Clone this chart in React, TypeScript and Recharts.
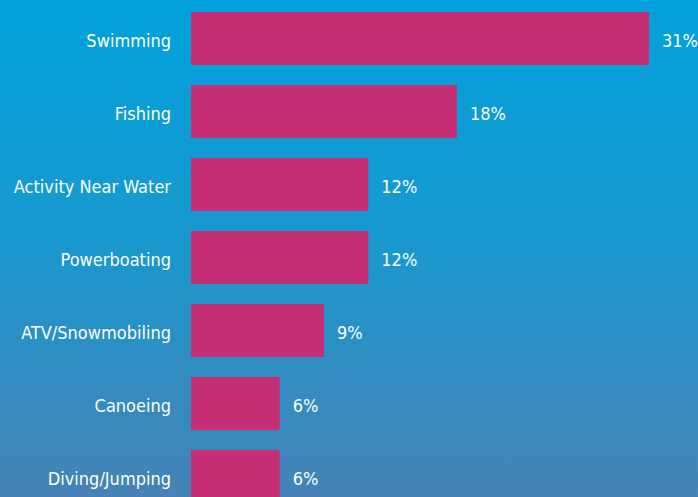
import { Bar, BarChart, LabelList, XAxis, YAxis } from 'recharts';

const activities = [
  'Swimming',
  'Fishing',
  'Activity Near Water',
  'Powerboating',
  'ATV/Snowmobiling',
  'Canoeing',
  'Diving/Jumping',
];
const shares = [31, 18, 12, 12, 9, 6, 6];

const data = activities.map((name, i) => ({ name, value: shares[i] }));

const textStyle = {
  fill: '#ffffff',
  fontSize: 18,
  fontFamily: '"DejaVu Sans", sans-serif',
  fontStretch: 'condensed',
};

export default function App() {
  return (
    <div
      style={{
        position: 'absolute',
        top: 0,
        left: 0,
        width: 698,
        height: 497,
        overflow: 'hidden',
        background: 'linear-gradient(180deg, #00a1db 0%, #1998ce 50%, #4782b5 100%)',
      }}
    >
      <BarChart
        width={698}
        height={520}
        data={data}
        layout="vertical"
        margin={{ top: 2, right: 49, bottom: 7, left: 0 }}
        barCategoryGap={10}
      >
        <XAxis type="number" domain={[0, 31]} hide />
        <YAxis
          type="category"
          dataKey="name"
          width={191}
          axisLine={false}
          tickLine={false}
          tickSize={0}
          tickMargin={20}
          tick={{ ...textStyle, dy: 2 }}
        />
        <Bar dataKey="value" fill="#c52e74" isAnimationActive={false}>
          <LabelList
            dataKey="value"
            position="right"
            offset={13}
            dy={2}
            formatter={(v: number) => `${v}%`}
            style={textStyle}
          />
        </Bar>
      </BarChart>
    </div>
  );
}
